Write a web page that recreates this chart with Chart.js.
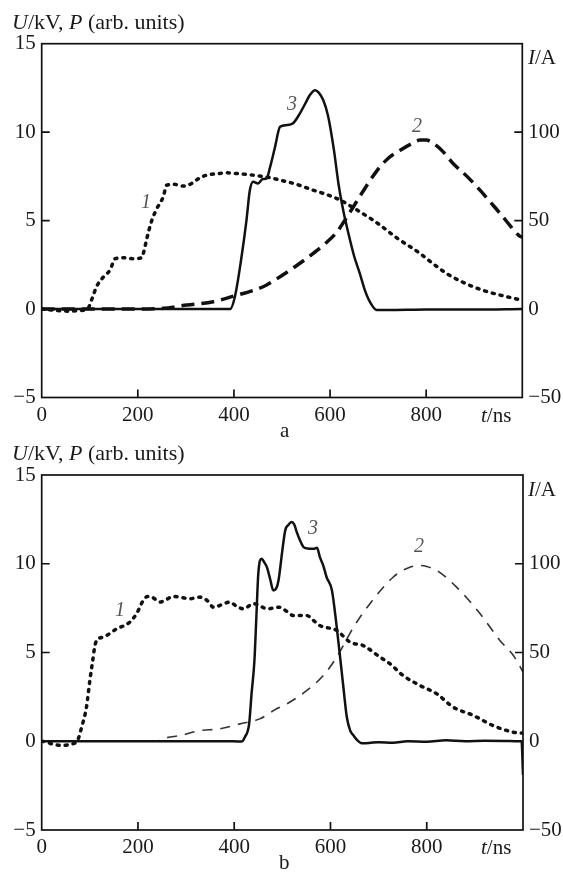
<!DOCTYPE html>
<html><head><meta charset="utf-8">
<script src="https://cdn.jsdelivr.net/npm/chart.js@4.4.1/dist/chart.umd.min.js"></script>
<style>
html,body{margin:0;padding:0;background:#fff;}
#wrap{position:relative;width:563px;height:872px;overflow:hidden;font-family:'Liberation Serif','Times New Roman',serif;color:#1a1a1a;}
canvas{position:absolute;left:0;}
.t{position:absolute;font-size:21px;line-height:1;white-space:nowrap;}
.ti{position:absolute;font-size:22px;line-height:1;white-space:nowrap;}
.c{position:absolute;font-size:20px;font-style:italic;color:#555;line-height:1;transform:translate(-50%,-50%);}
</style></head><body>
<div id="wrap">
<canvas id="ca" width="563" height="436" style="top:0"></canvas>
<canvas id="cb" width="563" height="436" style="top:436px"></canvas>

<div class="ti" style="left:12px;top:11px"><i>U</i>/kV, <i>P</i> (arb. units)</div>
<div class="t" style="left:528px;top:47px"><i>I</i>/A</div>
<div class="t" style="left:481px;top:405px"><i>t</i>/ns</div>
<div class="t" style="left:280px;top:420px">a</div>
<div class="c" style="left:146px;top:201px">1</div>
<div class="c" style="left:417px;top:125px">2</div>
<div class="c" style="left:292px;top:103px">3</div>

<div class="ti" style="left:12px;top:442px"><i>U</i>/kV, <i>P</i> (arb. units)</div>
<div class="t" style="left:528px;top:479px"><i>I</i>/A</div>
<div class="t" style="left:481px;top:837px"><i>t</i>/ns</div>
<div class="t" style="left:279px;top:852px">b</div>
<div class="c" style="left:120px;top:609px">1</div>
<div class="c" style="left:419px;top:545px">2</div>
<div class="c" style="left:313px;top:527px">3</div>
</div>
<script>
// ---- data: panel a ----
const tA1 = [0,20,40,60,80,95,105,114,128,142,153,170,190,208,213,218,229,240,253,260,275,295,312,328,343,365,385,410,440,470,496,530,565,595,621,650,683,704,740,787,815,843,870,898,925,954,980,1000];
const uA1 = [0,-0.05,-0.1,-0.12,-0.08,0,0.6,1.26,1.8,2.2,2.85,2.9,2.85,2.9,3.3,3.9,5.0,5.7,6.35,7.0,7.05,6.95,7.1,7.4,7.57,7.65,7.7,7.65,7.57,7.45,7.29,7.05,6.72,6.45,6.16,5.7,5.14,4.75,4.0,3.15,2.55,2.0,1.6,1.26,1.0,0.79,0.62,0.5];
const tA2 = [0,100,200,253,302,357,399,440,468,496,530,565,590,614,635,665,697,720,746,770,787,800,815,835,856,885,912,935,954,975,992,1000];
const pA2 = [0,0,0,0.04,0.23,0.41,0.73,1.05,1.36,1.83,2.45,3.15,3.7,4.35,5.2,6.5,7.8,8.5,8.98,9.35,9.55,9.55,9.36,8.9,8.23,7.5,6.72,6.0,5.4,4.7,4.18,4.05];
const tA3 = [0,200,392,402,415,426,433,440,450,460,468,475,485,496,510,523,537,550,558,569,576,586,596,608,618,628,638,650,662,672,683,697,720,800,900,1000];
const iA3 = [0,0,0,7,28,50,67,72,71,73.5,73.8,80,91,103,104,105,110.5,117,121,123.7,122.5,118,109,90,70,55,43,30,20,11,4,-0.5,-0.5,-0.2,-0.3,0];
// ---- data: panel b ----
const tB1 = [0,10,21,42,62,72,76,83,93,100,106,110,114,125,135,156,170,183,197,211,220,229,246,260,273,290,308,329,345,357,375,391,405,419,440,455,468,495,510,523,551,565,578,613,641,668,703,724,751,786,821,855,897,938,980,1000];
const uB1 = [0,-0.05,-0.15,-0.24,-0.15,-0.05,0.14,0.79,1.92,3.42,4.55,5.3,5.68,5.85,5.96,6.34,6.5,6.71,7.18,7.93,8.15,8.12,7.84,8.0,8.16,8.1,8.03,8.12,7.9,7.55,7.7,7.84,7.6,7.46,7.75,7.6,7.46,7.55,7.3,7.08,7.08,6.8,6.52,6.24,5.58,5.39,4.74,4.36,3.7,3.14,2.67,1.92,1.45,0.88,0.51,0.45];
const tB2 = [0,100,200,240,260,287,329,370,412,453,488,509,551,585,613,648,682,730,760,786,800,821,862,911,952,980,990,1000];
const pB2 = [0,0,0,0.02,0.2,0.32,0.6,0.7,0.98,1.26,1.83,2.1,2.86,3.7,4.74,6.43,7.75,9.24,9.75,9.9,9.85,9.62,8.68,7.18,5.68,4.83,4.4,3.9];
const tB3 = [0,200,398,415,422,431,436,442,446,450,457,462,468,475,481,487,492,500,506,513,519,525,530,537,544,555,565,572,578,585,592,603,613,620,627,634,641,648,656,665,680,700,730,760,800,840,880,920,960,990,997,1000];
const iB3 = [0,0,0,-0.2,2.3,9.8,26.7,45.5,70,94.3,102.8,101,98,91,85,86,90.6,107.5,118.8,122,123.5,122,117.8,113,109.4,108.5,108.4,109,103.7,99,92.4,85,64.3,47.4,30,13.5,6,3.2,0.5,-1.1,-1,-0.5,-0.8,0,-0.3,0.5,0,0.3,0.2,0,0,-19];
// ---- axis ticks ----
const xTicks = [0,200,400,600,800,1000];
const uTicks = [-5,0,5,10,15];
const iTicks = [-50,0,50,100,150];

const pts = (t,v) => t.map((x,i)=>({x:x,y:v[i]}));
const FONT = {family:"'Liberation Serif','Times New Roman',serif", size:21};
const TXT = '#1a1a1a';
const minus = v => v<0 ? '\u2212'+Math.abs(v) : String(v);

const frameTicks = {
  id:'frameTicks',
  afterDraw(chart){
    const ctx=chart.ctx, a=chart.chartArea, L=8;
    ctx.save();
    ctx.strokeStyle='#111'; ctx.lineWidth=1.7;
    ctx.strokeRect(a.left,a.top,a.right-a.left,a.bottom-a.top);
    ctx.beginPath();
    const xs=chart.scales.x, y=chart.scales.y, y2=chart.scales.y2;
    xs.ticks.forEach(t=>{const p=xs.getPixelForValue(t.value); if(p>a.left+2&&p<a.right-2){ctx.moveTo(p,a.bottom);ctx.lineTo(p,a.bottom-L);}});
    y.ticks.forEach(t=>{const p=y.getPixelForValue(t.value); if(p>a.top+2&&p<a.bottom-2){ctx.moveTo(a.left,p);ctx.lineTo(a.left+L,p);}});
    y2.ticks.forEach(t=>{const p=y2.getPixelForValue(t.value); if(p>a.top+2&&p<a.bottom-2){ctx.moveTo(a.right,p);ctx.lineTo(a.right-L,p);}});
    ctx.stroke(); ctx.restore();
  }
};

function make(id, datasets, topPad, xH, rightW){
  return new Chart(document.getElementById(id), {
    type:'line',
    data:{datasets:datasets},
    options:{
      responsive:false, animation:false, devicePixelRatio:1,
      layout:{padding:{top:topPad,left:0,right:0,bottom:0}},
      plugins:{legend:{display:false}, tooltip:{enabled:false}},
      elements:{point:{radius:0}, line:{cubicInterpolationMode:'monotone'}},
      scales:{
        x:{type:'linear', min:0, max:1000,
           afterBuildTicks:s=>{s.ticks=xTicks.map(v=>({value:v}));},
           ticks:{font:FONT, color:TXT, padding:5, maxRotation:0, autoSkip:false, callback:v=> v===1000?'':String(v)},
           grid:{display:false, drawTicks:false, tickLength:0}, border:{display:false},
           afterFit:s=>{s.height=xH;}},
        y:{type:'linear', position:'left', min:-5, max:15,
           afterBuildTicks:s=>{s.ticks=uTicks.map(v=>({value:v}));},
           ticks:{font:FONT, color:TXT, padding:6, callback:v=>minus(v)},
           grid:{display:false, drawTicks:false, tickLength:0}, border:{display:false},
           afterFit:s=>{s.width=41.7;}},
        y2:{type:'linear', position:'right', min:-50, max:150,
           afterBuildTicks:s=>{s.ticks=iTicks.map(v=>({value:v}));},
           ticks:{font:FONT, color:TXT, padding:6, callback:v=> v===150?'':minus(v)},
           grid:{display:false, drawTicks:false, tickLength:0}, border:{display:false},
           afterFit:s=>{s.width=rightW;}}
      }
    },
    plugins:[frameTicks]
  });
}

make('ca', [
  {data:pts(tA3,iA3), yAxisID:'y2', borderColor:'#111', borderWidth:2.5},
  {data:pts(tA1,uA1), yAxisID:'y', borderColor:'#111', borderWidth:3.5, borderDash:[2,6], borderCapStyle:'round'},
  {data:pts(tA2,pA2), yAxisID:'y', borderColor:'#111', borderWidth:3.5, borderDash:[13,7]}
], 43.7, 38.5, 40.7);

make('cb', [
  {data:pts(tB3,iB3), yAxisID:'y2', borderColor:'#111', borderWidth:2.5},
  {data:pts(tB1,uB1), yAxisID:'y', borderColor:'#111', borderWidth:3.5, borderDash:[2,6], borderCapStyle:'round'},
  {data:pts(tB2,pB2), yAxisID:'y', borderColor:'#333', borderWidth:1.6, borderDash:[10,8]}
], 39, 42, 40);
</script>
</body></html>
